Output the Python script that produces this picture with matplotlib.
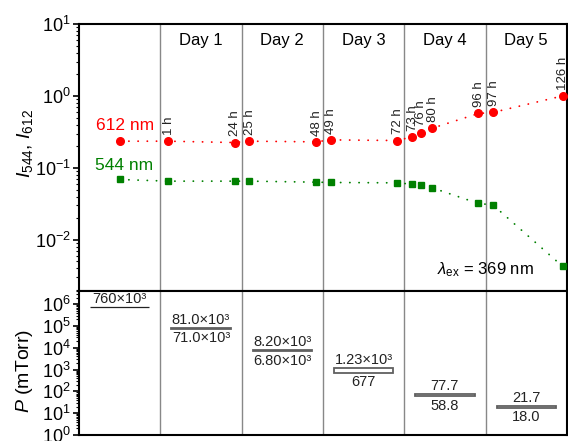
import numpy as np
import matplotlib as mpl
mpl.use('Agg')
import matplotlib.pyplot as plt
from matplotlib import ticker

plt.rcParams['font.family'] = ['Liberation Sans', 'DejaVu Sans']
plt.rcParams['mathtext.fontset'] = 'custom'
plt.rcParams['mathtext.rm'] = 'Liberation Sans'
plt.rcParams['mathtext.it'] = 'Liberation Sans:italic'
plt.rcParams['mathtext.bf'] = 'Liberation Sans:bold'

# hours after the vacuum was pulled (0 = before)
hours = [0, 1, 24, 25, 48, 49, 72, 73, 76, 80, 96, 97, 126]
i612 = [0.235, 0.235, 0.225, 0.235, 0.23, 0.245, 0.24, 0.27, 0.31, 0.356, 0.57, 0.59, 1.0]
i544 = [0.069, 0.0654, 0.0654, 0.0654, 0.0633, 0.0627, 0.0619, 0.0594, 0.0575, 0.0528,
        0.032, 0.0306, 0.00427]

day_names = ['Day 1', 'Day 2', 'Day 3', 'Day 4', 'Day 5']
p_high = [760e3, 81.0e3, 8.20e3, 1.23e3, 77.7, 21.7]
p_low = [760e3, 71.0e3, 6.80e3, 677, 58.8, 18.0]
high_labels = ['760×10³', '81.0×10³', '8.20×10³', '1.23×10³', '77.7', '21.7']
low_labels = ['', '71.0×10³', '6.80×10³', '677', '58.8', '18.0']

# broken time axis: hours -> day blocks (day 0 = before vacuum)
knot_h = [-1, 0, 0.5, 1, 24, 24.5, 25, 48, 48.5, 49, 72, 72.5, 73, 96, 96.5, 97, 126, 128]
knot_d = [-1, -0.5, 0, 0.095, 0.913, 1, 1.095, 1.913, 2, 2.095, 2.913, 3, 3.095, 3.913,
          4, 4.09, 4.948, 5]


def fwd(h):
    return np.interp(h, knot_h, knot_d)


def inv(d):
    return np.interp(d, knot_d, knot_h)


fig = plt.figure(figsize=(5.68, 4.41), dpi=100)
ax1 = fig.add_axes([0.139, 0.340, 0.859, 0.6056])
ax2 = fig.add_axes([0.139, 0.0136, 0.859, 0.3264])

grey = '#888888'

# --- top panel: emission intensities
ax1.set_xscale('function', functions=(fwd, inv))
ax1.set_xlim(-1, 128)
ax1.set_yscale('log')
ax1.set_ylim(1.94e-3, 10)
ax1.xaxis.set_major_locator(ticker.NullLocator())
ax1.xaxis.set_minor_locator(ticker.NullLocator())
ax1.set_yticks([1e-2, 1e-1, 1, 10])
ax1.yaxis.set_minor_locator(ticker.LogLocator(subs=np.arange(2, 10), numticks=20))
ax1.yaxis.set_minor_formatter(ticker.NullFormatter())

for d in range(5):
    ax1.axvline(inv(d), color=grey, lw=1.0, zorder=1)
    ax1.text(inv(d + 0.5), 0.94, day_names[d], transform=ax1.get_xaxis_transform(),
             ha='center', va='center', fontsize=12)

dots = (0, (0.1, 5))
ax1.plot(hours, i612, color='red', ls=dots, lw=1.3, dash_capstyle='round',
         marker='o', ms=5.5, zorder=3)
ax1.plot(hours, i544, color='green', ls=dots, lw=1.3, dash_capstyle='round',
         marker='s', ms=4.5, zorder=3)

for h, v in zip(hours[1:], i612[1:]):
    ax1.annotate(f'{h} h', (h, v), xytext=(0.5, 4.5), textcoords='offset points',
                 rotation=90, ha='center', va='bottom', fontsize=9.5, color='#222222')

ax1.annotate('612 nm', (hours[0], i612[0]), xytext=(4, 6), textcoords='offset points',
             ha='center', va='bottom', fontsize=12.5, color='red')
ax1.annotate('544 nm', (hours[0], i544[0]), xytext=(3, 5), textcoords='offset points',
             ha='center', va='bottom', fontsize=12.5, color='green')
ax1.text(0.734, 0.082, r'$\lambda_{\rm ex}$ = 369 nm', transform=ax1.transAxes,
         ha='left', va='center', fontsize=12)

ax1.set_ylabel(r'$I_{\rm 544}$, $I_{\rm 612}$', fontsize=14)
ax1.yaxis.set_label_coords(-0.09, 0.554)

# --- bottom panel: chamber pressure
day_pos = np.arange(-0.5, 5)
ax2.set_xlim(-1, 5)
ax2.set_yscale('log')
ax2.set_ylim(1, 4e6)
ax2.set_xticks([])
ax2.set_yticks([1e0, 1e1, 1e2, 1e3, 1e4, 1e5, 1e6])
ax2.yaxis.set_minor_locator(ticker.LogLocator(subs=np.arange(2, 10), numticks=20))
ax2.yaxis.set_minor_formatter(ticker.NullFormatter())

for d in range(5):
    ax2.axvline(d, color=grey, lw=1.0, zorder=1)

heights = np.array(p_high) - np.array(p_low)
ax2.bar(day_pos, heights, bottom=p_low, width=0.73, facecolor='white',
        edgecolor=['#222222'] + ['#606060'] * 5, linewidth=[0.9] + [1.3] * 5, zorder=2)

for x, hi, lo, th, tl in zip(day_pos, p_high, p_low, high_labels, low_labels):
    ax2.annotate(th, (x, hi), xytext=(0, 0.5), textcoords='offset points',
                 ha='center', va='bottom', fontsize=10.5, color='#222222')
    if tl:
        ax2.annotate(tl, (x, lo), xytext=(0, -1.5), textcoords='offset points',
                     ha='center', va='top', fontsize=10.5, color='#222222')

ax2.text(-0.59, 0.472, 'vacuum\npulled', transform=ax2.get_yaxis_transform(),
         ha='center', va='center', fontsize=12.5, linespacing=1.2)
ax2.text(-0.05, 0.479, '→', transform=ax2.get_yaxis_transform(),
         ha='center', va='center', fontsize=8)

ax2.set_ylabel('$P$ (mTorr)', fontsize=14)
ax2.yaxis.set_label_coords(-0.09, 0.444)

for ax in (ax1, ax2):
    for s in ax.spines.values():
        s.set_linewidth(1.5)
    ax.tick_params(axis='y', which='major', direction='out', length=4, width=1.2,
                   labelsize=13, pad=2)
    ax.tick_params(axis='y', which='minor', direction='out', length=2, width=0.8)

fig.savefig('out.png', dpi=100)
